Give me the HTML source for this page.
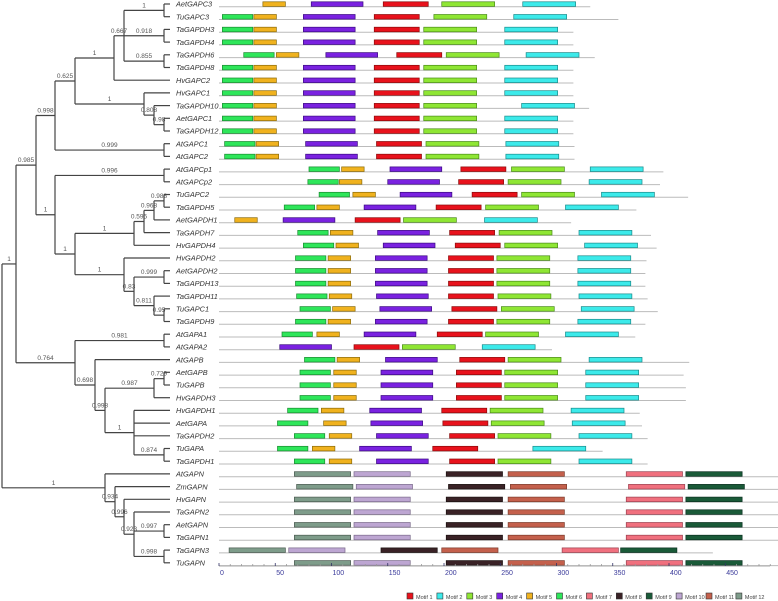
<!DOCTYPE html>
<html><head><meta charset="utf-8">
<style>
html,body{margin:0;padding:0;background:#fff;}
svg{display:block;font-family:"Liberation Sans",sans-serif;}
</style></head>
<body>
<svg id="chart" width="778" height="601" viewBox="0 0 778 601" xmlns="http://www.w3.org/2000/svg">
<g id="tree"></g>
<g id="motifs"></g>
<g id="axis"></g>
<g id="legend"></g>
</svg>
<script>
const geneNames = ["AetGAPC3","TuGAPC3","TaGAPDH3","TaGAPDH4","TaGAPDH6","TaGAPDH8","HvGAPC2","HvGAPC1","TaGAPDH10","AetGAPC1","TaGAPDH12","AtGAPC1","AtGAPC2","AtGAPCp1","AtGAPCp2","TuGAPC2","TaGAPDH5","AetGAPDH1","TaGAPDH7","HvGAPDH4","HvGAPDH2","AetGAPDH2","TaGAPDH13","TaGAPDH11","TuGAPC1","TaGAPDH9","AtGAPA1","AtGAPA2","AtGAPB","AetGAPB","TuGAPB","HvGAPDH3","HvGAPDH1","AetGAPA","TaGAPDH2","TuGAPA","TaGAPDH1","AtGAPN","ZmGAPN","HvGAPN","TaGAPN2","AetGAPN","TaGAPN1","TaGAPN3","TuGAPN"];
const motifNames = ["Motif 1","Motif 2","Motif 3","Motif 4","Motif 5","Motif 6","Motif 7","Motif 8","Motif 9","Motif 10","Motif 11","Motif 12"];
const motifWidths = [40,47,47,46,20,27,50,50,50,50,50,50];
const seqLengths = [330,355,315,315,334,315,315,315,329,315,315,316,316,395,392,417,371,313,384,389,380,379,379,381,390,379,370,296,418,413,415,415,374,376,381,341,381,497,497,497,497,497,497,439,497];
const motifStarts = [
 [[5,39],[4,82],[1,146],[3,198],[2,270]],
 [[6,3],[5,31],[4,75],[1,138],[3,191],[2,262]],
 [[6,3],[5,31],[4,75],[1,138],[3,182],[2,254]],
 [[6,3],[5,31],[4,75],[1,138],[3,182],[2,254]],
 [[6,22],[5,51],[4,95],[1,158],[3,202],[2,273]],
 [[6,3],[5,31],[4,75],[1,138],[3,182],[2,254]],
 [[6,3],[5,31],[4,75],[1,138],[3,182],[2,254]],
 [[6,3],[5,31],[4,75],[1,138],[3,182],[2,254]],
 [[6,3],[5,31],[4,75],[1,138],[3,182],[2,269]],
 [[6,3],[5,31],[4,75],[1,138],[3,182],[2,254]],
 [[6,3],[5,31],[4,75],[1,138],[3,182],[2,254]],
 [[6,5],[5,33],[4,77],[1,140],[3,184],[2,255]],
 [[6,5],[5,33],[4,77],[1,140],[3,184],[2,255]],
 [[6,80],[5,109],[4,152],[1,215],[3,260],[2,330]],
 [[6,79],[5,107],[4,150],[1,213],[3,257],[2,329]],
 [[6,89],[5,119],[4,161],[1,225],[3,269],[2,340]],
 [[6,58],[5,87],[4,129],[1,193],[3,237],[2,308]],
 [[5,14],[4,57],[1,121],[3,164],[2,236]],
 [[6,70],[5,99],[4,141],[1,205],[3,249],[2,320]],
 [[6,75],[5,104],[4,146],[1,210],[3,254],[2,325]],
 [[6,68],[5,97],[4,139],[1,204],[3,247],[2,319]],
 [[6,68],[5,97],[4,139],[1,204],[3,247],[2,319]],
 [[6,68],[5,97],[4,139],[1,204],[3,247],[2,319]],
 [[6,69],[5,98],[4,140],[1,204],[3,248],[2,320]],
 [[6,72],[5,101],[4,143],[1,207],[3,251],[2,322]],
 [[6,68],[5,97],[4,139],[1,204],[3,247],[2,319]],
 [[6,56],[5,87],[4,129],[1,194],[3,237],[2,308]],
 [[4,54],[1,120],[3,163],[2,234]],
 [[6,76],[5,105],[4,148],[1,214],[3,257],[2,329]],
 [[6,72],[5,102],[4,144],[1,211],[3,254],[2,326]],
 [[6,72],[5,102],[4,144],[1,211],[3,254],[2,326]],
 [[6,72],[5,102],[4,144],[1,211],[3,254],[2,326]],
 [[6,61],[5,91],[4,134],[1,198],[3,241],[2,313]],
 [[6,52],[5,93],[4,135],[1,199],[3,242],[2,314]],
 [[6,67],[5,98],[4,140],[1,205],[3,248],[2,320]],
 [[6,52],[5,83],[4,125],[1,190],[2,279]],
 [[6,67],[5,98],[4,140],[1,205],[3,248],[2,320]],
 [[12,67],[10,120],[8,202],[11,257],[7,362],[9,415]],
 [[12,69],[10,122],[8,204],[11,259],[7,364],[9,417]],
 [[12,67],[10,120],[8,202],[11,257],[7,362],[9,415]],
 [[12,67],[10,120],[8,202],[11,257],[7,362],[9,415]],
 [[12,67],[10,120],[8,202],[11,257],[7,362],[9,415]],
 [[12,67],[10,120],[8,202],[11,257],[7,362],[9,415]],
 [[12,9],[10,62],[8,144],[11,198],[7,305],[9,357]],
 [[12,67],[10,120],[8,202],[11,257],[7,362],[9,415]]
];
const tickValues = [0,50,100,150,200,250,300,350,400,450];

const motifColors = ["#e8121c","#3ceaea","#8fe634","#7a22e0","#f0b21e","#2ee65a","#f0707e","#3a2226","#1a5a38","#bda6d2","#c4604c","#7e9c8a"];
const motifStroke = ["#8a0a0a","#1a8a8a","#4a8a1a","#3a0a80","#8a6a0a","#1a8a30","#9a4050","#1a1010","#0a3020","#7a6a8a","#7a3a2a","#4a5a50"];

const NS="http://www.w3.org/2000/svg";
function mk(tag, attrs, parent){const e=document.createElementNS(NS,tag);for(const k in attrs)e.setAttribute(k,attrs[k]);parent.appendChild(e);return e;}
const rowY = i => 4 + 12.7*i;
const xs = u => 219 + u*1.125;

function n(depth,label,children){return {depth,label,children};}
function lf(i,label){return {leaf:i,label:label||null,depth:170};}
function P(a,b,label){return n(164,label,[lf(a),lf(b)]);}
const tree = n(2,null,[
 n(16,'1',[
  n(36,'0.985',[
   n(55,'0.998',[
    n(75,'0.625',[
     n(114,'1',[ n(124,'0.667',[P(0,1,'1'),P(2,3,'0.918'),P(4,5,'0.855')]), lf(6) ]),
     n(144,'1',[ lf(7), n(154,'0.808',[lf(8),P(9,10,'0.98')]) ])
    ]),
    P(11,12,'0.999')
   ]),
   n(55,'1',[
    P(13,14,'0.996'),
    n(75,'1',[
     n(134,'1',[ n(144,'0.595',[ n(154,'0.968',[P(15,16,'0.988'),lf(17)]), lf(18)]), lf(19)]),
     n(124,'1',[ lf(20), n(134,'0.83',[P(21,22,'0.999'), n(154,'0.811',[lf(23),P(24,25,'0.95')])]) ])
    ])
   ])
  ]),
  n(75,'0.764',[
   P(26,27,'0.981'),
   n(95,'0.698',[ lf(28), n(105,'0.998',[ n(154,'0.987',[P(29,30,'0.729'),lf(31)]), n(134,'1',[lf(32),lf(33),lf(34),P(35,36,'0.874')]) ]) ])
  ])
 ]),
 n(105,'1',[ lf(37), n(115,'0.934',[ lf(38), n(124,'0.996',[ lf(39), n(134,'0.923',[lf(40),P(41,42,'0.997'),P(43,44,'0.998')]) ]) ]) ])
]);
const gT=document.getElementById('tree');
function layout(node){
 if(node.leaf!==undefined){node.y=rowY(node.leaf);return node.y;}
 node.children.forEach(layout);
 node.y=(node.children[0].y+node.children[node.children.length-1].y)/2;
 return node.y;
}
layout(tree);
function drawNode(node,parentX){
 if(parentX!==null){
  const h=mk('line',{x1:parentX,y1:node.y,x2:node.depth,y2:node.y,stroke:'#444','stroke-width':1.2},gT);
  
  
  if(node.label){
   const t=mk('text',{x:(parentX+node.depth)/2,y:node.y-3,'font-size':6.5,fill:'#555','text-anchor':'middle'},gT);
   t.textContent=node.label;
   
   
  }
 }
 if(node.children){
  const v=mk('line',{x1:node.depth,y1:node.children[0].y,x2:node.depth,y2:node.children[node.children.length-1].y,stroke:'#444','stroke-width':1.2},gT);
  
  
  node.children.forEach(c=>drawNode(c,node.depth));
 } else {
  const t=mk('text',{x:176,y:node.y+2.7,'font-size':7.4,'font-style':'italic',fill:'#333'},gT);
  t.textContent=geneNames[node.leaf];
  
  
 }
}
drawNode(tree,null);

const gM=document.getElementById('motifs');
geneNames.forEach((g,i)=>{
 const y=rowY(i);
 const ln=mk('line',{x1:xs(0),y1:y+2.8,x2:Math.min(xs(seqLengths[i]),778),y2:y+2.8,stroke:'#bbb','stroke-width':1},gM);
 
 
 motifStarts[i].forEach(([m,s])=>{
  const r=mk('rect',{x:xs(s),y:y-2.2,width:motifWidths[m-1]*1.125,height:4.6,fill:motifColors[m-1],stroke:motifStroke[m-1],'stroke-width':0.7},gM);
  
  
 });
});

const gA=document.getElementById('axis');
const al=mk('line',{x1:219,y1:566,x2:770,y2:566,stroke:'#aaa','stroke-width':1},gA);


for(let u=0;u<=490;u+=10){
 const major=u%50===0;
 const tk=mk('line',{x1:xs(u),y1:major?563:564,x2:xs(u),y2:566,stroke:major?'#336':'#999','stroke-width':0.8},gA);
 
 
}
tickValues.forEach(v=>{
 const t=mk('text',{x:xs(v)+1,y:575,'font-size':7,fill:'#3a3a9a'},gA);
 t.textContent=String(v);
 
 
});

const gL=document.getElementById('legend');
motifNames.forEach((nm,i)=>{
 const x=407+29.9*i;
 const r=mk('rect',{x:x,y:593,width:6,height:6,fill:motifColors[i],stroke:'#333','stroke-width':0.6},gL);
 
 
 const t=mk('text',{x:x+9,y:599,'font-size':5.5,fill:'#444'},gL);
 t.textContent=nm;
 
 
});
</script>
</body></html>
